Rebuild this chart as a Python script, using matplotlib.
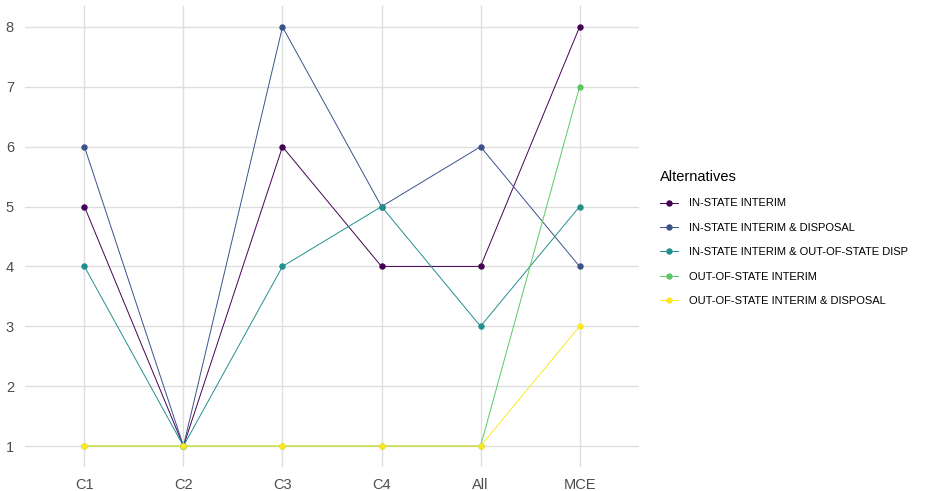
import matplotlib
matplotlib.use("Agg")
import matplotlib.pyplot as plt

criteria = ["C1", "C2", "C3", "C4", "All", "MCE"]
alternatives = [
    "IN-STATE INTERIM",
    "IN-STATE INTERIM & DISPOSAL",
    "IN-STATE INTERIM & OUT-OF-STATE DISP",
    "OUT-OF-STATE INTERIM",
    "OUT-OF-STATE INTERIM & DISPOSAL",
]
in_state_interim = [5, 1, 6, 4, 4, 8]
in_state_disposal = [6, 1, 8, 5, 6, 4]
in_state_oos_disp = [4, 1, 4, 5, 3, 5]
oos_interim = [1, 1, 1, 1, 1, 7]
oos_disposal = [1, 1, 1, 1, 1, 3]
colors = ["#440154", "#3B528B", "#21908C", "#5DC863", "#FDE725"]

series = [in_state_interim, in_state_disposal, in_state_oos_disp,
          oos_interim, oos_disposal]

plt.rcParams['font.family'] = ['Liberation Sans', 'DejaVu Sans']

fig = plt.figure(figsize=(9.33, 4.91), dpi=100)
ax = fig.add_axes([25/933, 24/491, (639-25)/933, (467-6)/491])

x = list(range(len(criteria)))
for name, vals, c in zip(alternatives, series, colors):
    ax.plot(x, vals, color=c, lw=0.7, marker="o", ms=3.6, label=name, zorder=3)

ax.set_xlim(-0.6, len(criteria) - 1 + 0.6)
ax.set_ylim(1 - 0.35, 8 + 0.35)
ax.set_xticks(x)
ax.set_xticklabels(criteria)
ax.set_yticks(range(1, 9))
ax.grid(True, color="#DEDEDE", lw=1)
ax.set_axisbelow(True)
for s in ax.spines.values():
    s.set_visible(False)
ax.tick_params(length=0, labelsize=10.5, labelcolor="#4D4D4D", pad=8)

leg = fig.legend(loc="upper left", bbox_to_anchor=(650/933, 1 - 160/491),
                 title="Alternatives", frameon=False, fontsize=8,
                 handlelength=1.6, handletextpad=1.0, labelspacing=1.3,
                 alignment="left")
leg.get_title().set_fontsize(10.5)

fig.savefig("out.png", dpi=100)
